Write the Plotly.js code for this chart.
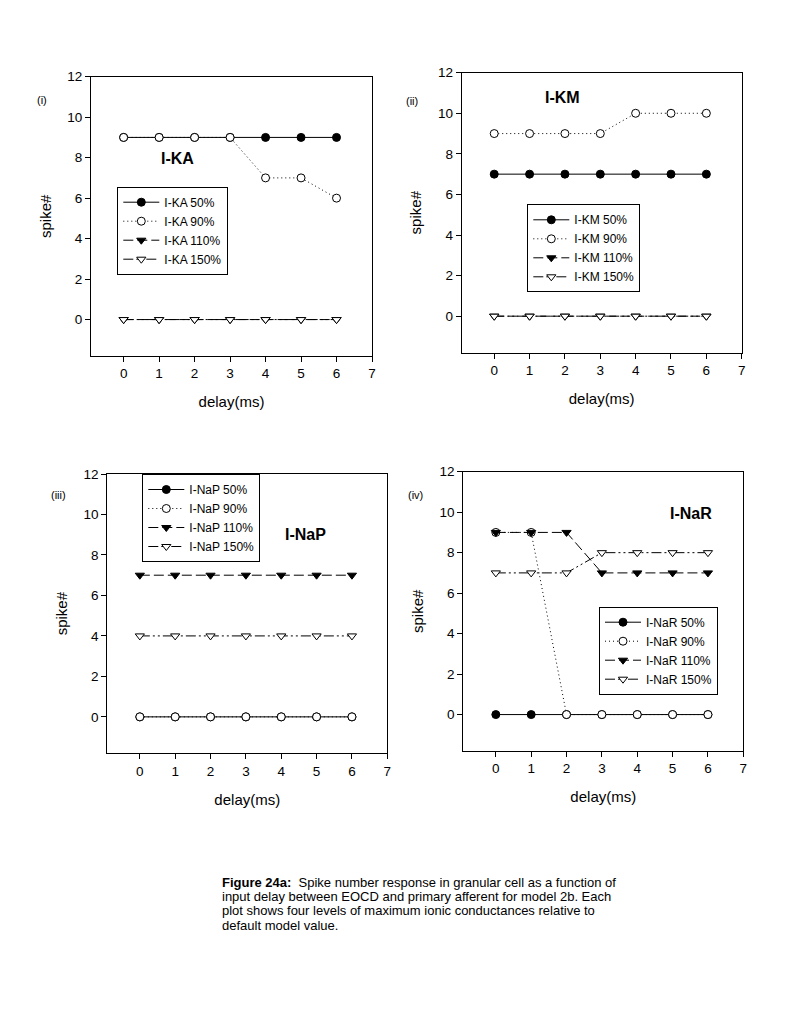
<!DOCTYPE html>
<html>
<head>
<meta charset="utf-8">
<script src="https://cdn.plot.ly/plotly-3.0.1.min.js"></script>
<style>
  html, body { margin: 0; padding: 0; background: #fff; }
  #chart { width: 794px; height: 1028px; }
</style>
</head>
<body>
<div id="chart"></div>
<script>
// ---- data ----
const delay = [0, 1, 2, 3, 4, 5, 6];
const levels = ['50%', '90%', '110%', '150%'];

const ka_50  = [9, 9, 9, 9, 9, 9, 9];
const ka_90  = [9, 9, 9, 9, 7, 7, 6];
const ka_110 = [0, 0, 0, 0, 0, 0, 0];
const ka_150 = [0, 0, 0, 0, 0, 0, 0];

const km_50  = [7, 7, 7, 7, 7, 7, 7];
const km_90  = [9, 9, 9, 9, 10, 10, 10];
const km_110 = [0, 0, 0, 0, 0, 0, 0];
const km_150 = [0, 0, 0, 0, 0, 0, 0];

const nap_50  = [0, 0, 0, 0, 0, 0, 0];
const nap_90  = [0, 0, 0, 0, 0, 0, 0];
const nap_110 = [7, 7, 7, 7, 7, 7, 7];
const nap_150 = [4, 4, 4, 4, 4, 4, 4];

const nar_50  = [0, 0, 0, 0, 0, 0, 0];
const nar_90  = [9, 9, 0, 0, 0, 0, 0];
const nar_110 = [9, 9, 9, 7, 7, 7, 7];
const nar_150 = [7, 7, 7, 8, 8, 8, 8];

const panelNames = ['I-KA', 'I-KM', 'I-NaP', 'I-NaR'];
const panelLabels = ['(i)', '(ii)', '(iii)', '(iv)'];
const panelData = [
  [ka_50, ka_90, ka_110, ka_150],
  [km_50, km_90, km_110, km_150],
  [nap_50, nap_90, nap_110, nap_150],
  [nar_50, nar_90, nar_110, nar_150]
];
const xTicks = [0, 1, 2, 3, 4, 5, 6, 7];
const yTicks = [0, 2, 4, 6, 8, 10, 12];
const captionLines = [
  '<b>Figure 24a:</b>  Spike number response in granular cell as a function of',
  'input delay between EOCD and primary afferent for model 2b. Each',
  'plot shows four levels of maximum ionic conductances relative to',
  'default model value.'
];

// ---- styles ----
const FONT = 'Liberation Sans, Arial, sans-serif';
const W = 794, H = 1028;
const styles = [
  {symbol: 'circle', fill: 'black', dash: 'solid'},
  {symbol: 'circle', fill: 'white', dash: '1px,3px'},
  {symbol: 'triangle-down', fill: 'black', dash: '10px,4px'},
  {symbol: 'triangle-down', fill: 'white', dash: '10px,3px,2px,3px,2px,3px'}
];
// plot areas in pixels [left, right, top, bottom]
const boxes = [
  [91, 372, 76.7, 356],
  [461.7, 741.7, 72.7, 352.7],
  [107.3, 387.3, 474, 753.3],
  [463.3, 743.3, 471.7, 751]
];
const legendPos = [[117.3, 186.7], [527.3, 204.3], [142.3, 474], [599, 606.7]];
const namePos = [[1.52, 7.94], [1.93, 10.76], [4.68, 9.03], [5.53, 9.95]];
const labelPos = [[35, 91.7], [411.7, 93.3], [49.3, 495], [415.7, 495]];

const traces = [];
const layout = {
  width: W, height: H,
  margin: {l: 0, r: 0, t: 0, b: 0},
  paper_bgcolor: 'white', plot_bgcolor: 'white',
  font: {family: FONT, color: 'black', size: 12},
  annotations: [],
  showlegend: true
};

panelData.forEach((series, p) => {
  const sfx = p === 0 ? '' : String(p + 1);
  const legendId = 'legend' + sfx;
  series.forEach((vals, s) => {
    const st = styles[s];
    traces.push({
      type: 'scatter', mode: 'lines+markers',
      x: delay, y: vals,
      xaxis: 'x' + sfx, yaxis: 'y' + sfx,
      name: panelNames[p] + ' ' + levels[s],
      legend: legendId,
      line: {color: 'black', width: 1, dash: st.dash},
      marker: {symbol: st.symbol, size: 8, color: st.fill, line: {color: 'black', width: 1}},
      hoverinfo: 'x+y'
    });
  });
  const b = boxes[p];
  const axBase = {
    showline: true, mirror: true, linecolor: 'black', linewidth: 1,
    ticks: 'outside', ticklen: 5, tickwidth: 1, tickcolor: 'black',
    showgrid: false, zeroline: false,
    tickfont: {family: FONT, size: 13.5, color: 'black'}
  };
  layout['xaxis' + sfx] = Object.assign({}, axBase, {
    domain: [b[0] / W, b[1] / W],
    range: [-0.92, 7],
    tickmode: 'array', tickvals: xTicks,
    anchor: 'y' + sfx,
    title: {text: 'delay(ms)', font: {family: FONT, size: 15}, standoff: 16}
  });
  layout['yaxis' + sfx] = Object.assign({}, axBase, {
    domain: [1 - b[3] / H, 1 - b[2] / H],
    range: [-1.8, 12],
    tickmode: 'array', tickvals: yTicks,
    anchor: 'x' + sfx,
    title: {text: 'spike#', font: {family: FONT, size: 15}, standoff: 12}
  });
  layout[legendId] = {
    x: legendPos[p][0] / W, y: 1 - legendPos[p][1] / H,
    xref: 'paper', yref: 'paper',
    xanchor: 'left', yanchor: 'top',
    bgcolor: 'white', bordercolor: 'black', borderwidth: 1,
    font: {family: FONT, size: 12, color: 'black'},
    tracegroupgap: 0, itemwidth: 36
  };
  layout.annotations.push({
    xref: 'x' + sfx, yref: 'y' + sfx,
    x: namePos[p][0], y: namePos[p][1],
    text: '<b>' + panelNames[p] + '</b>', showarrow: false,
    font: {family: FONT, size: 16, color: 'black'}
  });
  layout.annotations.push({
    xref: 'paper', yref: 'paper',
    x: labelPos[p][0] / W, y: 1 - labelPos[p][1] / H,
    text: panelLabels[p], showarrow: false,
    font: {family: FONT, size: 11, color: 'black'}
  });
});

captionLines.forEach((line, i) => {
  layout.annotations.push({
    xref: 'paper', yref: 'paper',
    x: 220 / W, y: 1 - (882 + i * 14.4) / H,
    xanchor: 'left', yanchor: 'middle', align: 'left',
    text: line, showarrow: false,
    font: {family: FONT, size: 13, color: 'black'}
  });
});

Plotly.newPlot('chart', traces, layout, {displayModeBar: false, staticPlot: true});
</script>
</body>
</html>
